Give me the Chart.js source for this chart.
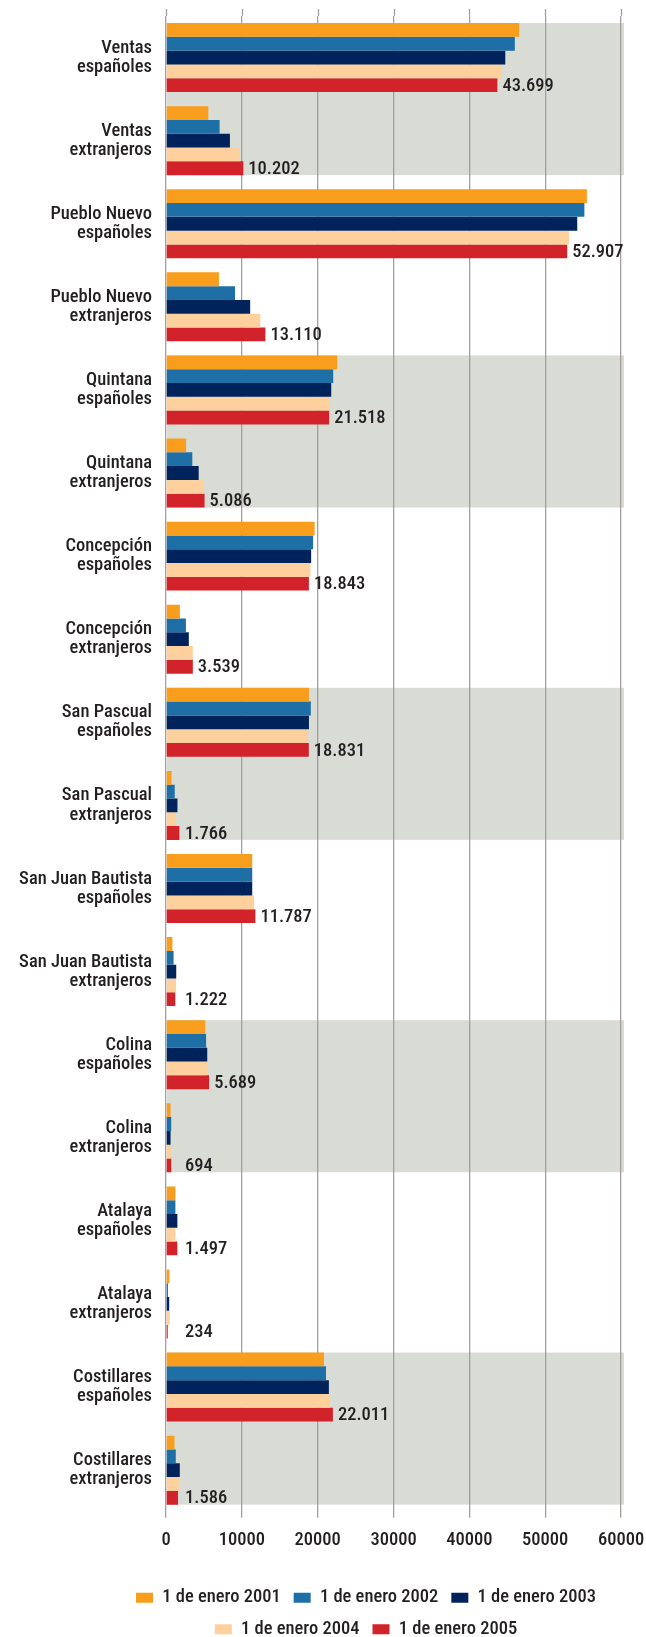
<!DOCTYPE html>
<html>
<head>
<meta charset="utf-8">
<script src="https://cdn.jsdelivr.net/npm/chart.js@4.4.1/dist/chart.umd.min.js"></script>
<style>
  html, body { margin: 0; padding: 0; background: #ffffff; }
  #wrap { position: relative; width: 646px; height: 1637px; }
</style>
</head>
<body>
<div id="wrap"><canvas id="c"></canvas></div>
<script>
// ---- data ----
const categories = [
  ['Ventas', 'españoles'], ['Ventas', 'extranjeros'],
  ['Pueblo Nuevo', 'españoles'], ['Pueblo Nuevo', 'extranjeros'],
  ['Quintana', 'españoles'], ['Quintana', 'extranjeros'],
  ['Concepción', 'españoles'], ['Concepción', 'extranjeros'],
  ['San Pascual', 'españoles'], ['San Pascual', 'extranjeros'],
  ['San Juan Bautista', 'españoles'], ['San Juan Bautista', 'extranjeros'],
  ['Colina', 'españoles'], ['Colina', 'extranjeros'],
  ['Atalaya', 'españoles'], ['Atalaya', 'extranjeros'],
  ['Costillares', 'españoles'], ['Costillares', 'extranjeros']
];
const seriesNames = ['1 de enero 2001', '1 de enero 2002', '1 de enero 2003', '1 de enero 2004', '1 de enero 2005'];
const values2001 = [46570, 5580, 55500, 6980, 22580, 2650, 19600, 1830, 18850, 730, 11370, 850, 5190, 600, 1240, 450, 20840, 1120];
const values2002 = [46000, 7070, 55170, 9100, 22050, 3470, 19400, 2630, 19100, 1150, 11370, 1000, 5290, 690, 1240, 260, 21100, 1290];
const values2003 = [44740, 8430, 54230, 11100, 21790, 4310, 19140, 3010, 18850, 1510, 11370, 1350, 5440, 600, 1500, 420, 21480, 1820];
const values2004 = [44250, 9750, 53150, 12440, 21600, 4970, 19050, 3540, 18750, 1300, 11630, 1330, 5390, 640, 1240, 500, 21640, 1700];
const values2005 = [43699, 10202, 52907, 13110, 21518, 5086, 18843, 3539, 18831, 1766, 11787, 1222, 5689, 694, 1497, 234, 22011, 1586];
const xTicks = [0, 10000, 20000, 30000, 40000, 50000, 60000];
const shadedPairStarts = [0, 4, 8, 12, 16];
const labelledSeries = 4;

// ---- style ----
const colors = ['#f89d1c', '#1f6fa7', '#00235b', '#fed09d', '#d2232a'];
const FONT = "'Liberation Sans Narrow', 'Arial Narrow', 'Roboto Condensed', 'Liberation Sans', sans-serif";
const FS = 18.5;
const FW = '500';
const TXT = '#231f20';
const GRID = '#a69d9d';
const BAND = '#d8dcd5';

function fmt(v) {
  return String(v).replace(/\B(?=(\d{3})+(?!\d))/g, '.');
}

const bandPlugin = {
  id: 'bands',
  afterLayout(chart) {
    // let the category labels use the space left of the axis box
    chart.scales.y.left = 0;
  },
  beforeDraw(chart) {
    const ctx = chart.ctx;
    const xs = chart.scales.x;
    const first = chart.getDatasetMeta(0);
    const last = chart.getDatasetMeta(chart.data.datasets.length - 1);
    const x0 = xs.getPixelForValue(xTicks[0]) + 1;
    const x1 = xs.getPixelForValue(xTicks[xTicks.length - 1]) + 3;
    ctx.save();
    ctx.fillStyle = BAND;
    shadedPairStarts.forEach(i => {
      const a = first.data[i].getProps(['y', 'height'], true);
      const b = last.data[i + 1].getProps(['y', 'height'], true);
      const top = a.y - a.height / 2;
      const bot = b.y + b.height / 2;
      ctx.fillRect(x0, top, x1 - x0, bot - top);
    });
    ctx.restore();
  }
};

const gridTopPlugin = {
  id: 'gridTop',
  afterDraw(chart) {
    const ctx = chart.ctx;
    const xs = chart.scales.x;
    ctx.save();
    ctx.strokeStyle = GRID;
    ctx.lineWidth = 1.3;
    xTicks.forEach(t => {
      const px = Math.round(xs.getPixelForValue(t)) + 0.5;
      ctx.beginPath();
      ctx.moveTo(px, 9);
      ctx.lineTo(px, chart.chartArea.top);
      ctx.stroke();
    });
    ctx.restore();
  }
};

const valueLabelPlugin = {
  id: 'valueLabels',
  afterDatasetsDraw(chart) {
    const ctx = chart.ctx;
    const meta = chart.getDatasetMeta(labelledSeries);
    const data = chart.data.datasets[labelledSeries].data;
    const minX = chart.chartArea.left + 19;
    ctx.save();
    ctx.font = FW + ' ' + FS + 'px ' + FONT;
    ctx.fillStyle = TXT;
    ctx.textAlign = 'left';
    ctx.textBaseline = 'middle';
    meta.data.forEach((el, i) => {
      const p = el.getProps(['x', 'y'], true);
      const x = Math.max(p.x + 5, minX);
      ctx.fillText(fmt(data[i]), x, p.y + 1);
    });
    ctx.restore();
  }
};

const seriesValues = [values2001, values2002, values2003, values2004, values2005];

new Chart(document.getElementById('c'), {
  type: 'bar',
  data: {
    labels: categories,
    datasets: seriesValues.map((vals, k) => ({
      label: seriesNames[k],
      data: vals,
      backgroundColor: colors[k],
      borderWidth: 0,
      categoryPercentage: 0.83,
      barPercentage: 1.0
    }))
  },
  options: {
    indexAxis: 'y',
    responsive: true,
    maintainAspectRatio: false,
    animation: false,
    devicePixelRatio: 1,
    layout: { padding: { left: 111, right: 25, top: 16, bottom: 0 } },
    plugins: {
      tooltip: { enabled: false },
      legend: {
        position: 'bottom',
        maxHeight: 61.5,
        labels: {
          boxWidth: 17,
          boxHeight: 10,
          padding: 13,
          color: TXT,
          font: { family: FONT, size: FS, weight: FW }
        }
      }
    },
    scales: {
      x: {
        min: 0,
        max: 60000,
        afterBuildTicks(scale) { scale.ticks = xTicks.map(v => ({ value: v })); },
        afterFit(scale) {
          scale.height = 63.8;
          scale.paddingLeft = 0;
          scale.paddingRight = 0;
        },
        grid: { color: GRID, lineWidth: 1.3, tickLength: 6, drawTicks: true },
        border: { display: false },
        ticks: {
          color: TXT,
          padding: 12,
          font: { family: FONT, size: FS, weight: FW, lineHeight: 1.2 },
          callback: v => String(v),
          maxRotation: 0,
          autoSkip: false
        }
      },
      y: {
        afterFit(scale) {
          scale.width = 166 - 111;
          scale.paddingTop = 0;
          scale.paddingBottom = 0;
        },
        grid: { display: false, drawTicks: false },
        border: { display: false },
        ticks: {
          color: TXT,
          padding: 14,
          autoSkip: false,
          font: { family: FONT, size: FS, weight: FW, lineHeight: 1.03 }
        }
      }
    }
  },
  plugins: [bandPlugin, gridTopPlugin, valueLabelPlugin]
});
</script>
</body>
</html>
